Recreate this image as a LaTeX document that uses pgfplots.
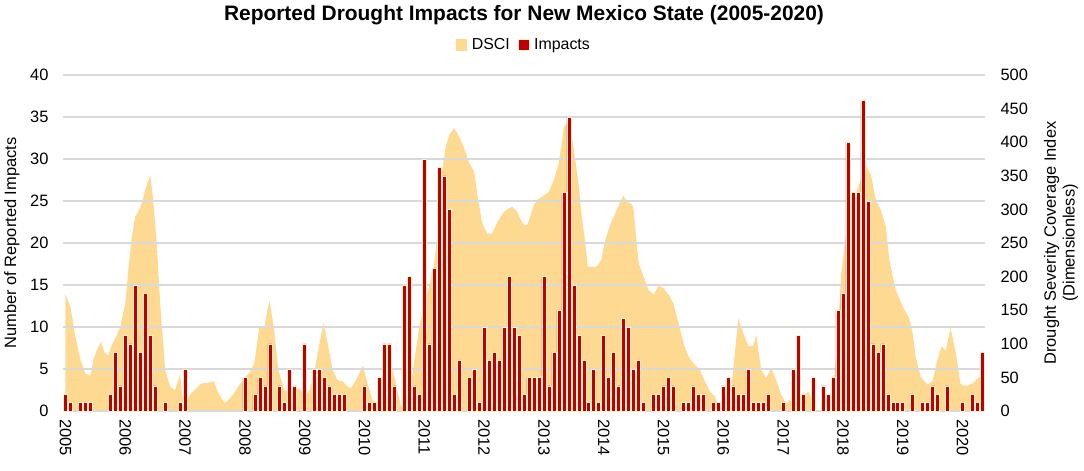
\documentclass[border=0pt]{standalone}
\usepackage{pgfplots}
\pgfplotsset{compat=1.18}
\usepackage{pgfplotstable}
\usepackage{fontspec}
\setmainfont{Liberation Sans}
\definecolor{dsci}{HTML}{FDD992}
\definecolor{imp}{HTML}{C00000}
\definecolor{gridc}{HTML}{D9D9D9}
\definecolor{barline}{HTML}{FFF3CF}

\pgfplotstableread{
m d
0 174
1 155
2 110
3 76
4 56
5 52
5.6 76
6.3 91
7.1 103
7.9 86
8.6 83
9.3 98
10.3 113
11 125
12 160
12.6 210
13.3 259
14 289
14.6 297
15.3 309
16 329
17 351
17.6 314
18.3 250
19 160
20 61
21 36
22 31
23 54
23.6 12
24.3 16
25.3 27
26.3 34
27.3 41
28.6 42
29.8 44
30.6 27
31.9 12
32.6 16
33.6 24
34.9 39
36 49
37 58
37.9 71
38.9 125
39.9 125
40.9 165
41.8 125
42.7 61
43.9 31
45 28
46 33
47 33
48 22
49 31
50 61
51 101
51.8 131
52.6 101
53.6 61
54.6 46
55.6 44
56.6 36
57.3 34
58.3 46
59.7 68
60.6 41
61.6 16
62.6 12
63.6 16
64.9 31
65.7 61
66.6 31
67.3 8
68.3 6
69 16
70 76
71 125
72 160
73 185
74 220
75 289
75.6 359
76.3 393
77 411
78 421
79 408
80 391
81 369
82 356
82.7 319
83.6 280
84.6 264
85.6 264
86.6 280
88 297
89.6 304
90.6 297
91.3 285
92 277
92.7 277
94 307
95 316
96 321
97 326
98 344
98.8 364
99.5 393
100 423
100.6 428
101.6 408
102.3 374
103 334
103.6 289
104.3 250
104.8 215
105.6 215
106.6 215
107.5 225
108.3 254
109.3 277
110.3 294
111.3 311
111.9 320
112.9 311
113.7 307
114 299
114.6 250
115 220
116 200
117 180
118 173
119 186
120 183
121 173
122 160
123 131
124 101
125 81
126 71
127.3 61
128.3 44
129.3 29
130.3 21
131.1 6
132.3 4
133.3 8
134.3 86
135 138
136 116
137 97
138 97
138.6 113
139.6 61
140.6 49
141.6 64
142.6 46
143.6 24
144.6 11
145.3 16
146.3 31
147.3 19
148.3 24
149.1 29
150 10
150.5 0
151.5 0
152 8
153 12
154 25
155 120
155.6 200
157 289
158.6 324
159.6 344
160.6 366
161.6 351
162.6 314
163.6 299
164.6 274
165.3 225
166.6 180
168 155
169.3 138
170 115
170.6 80
171.6 51
173 39
174 45
175 78
175.8 96
176.6 90
177.6 123
178.6 88
179.6 40
180.6 37
182 41
183 48
184 55
}\dscitable

\pgfplotstableread{
m v
0 2
1 1
3 1
4 1
5 1
9 2
10 7
11 3
12 9
13 8
14 15
15 7
16 14
17 9
18 3
20 1
23 1
24 5
36 4
38 2
39 4
40 3
41 8
43 3
44 1
45 5
46 3
48 8
50 5
51 5
52 4
53 3
54 2
55 2
56 2
60 3
61 1
62 1
63 4
64 8
65 8
66 3
68 15
69 16
70 3
71 2
72 30
73 8
74 17
75 29
76 28
77 24
78 2
79 6
81 4
82 5
83 1
84 10
85 6
86 7
87 6
88 10
89 16
90 10
91 9
92 2
93 4
94 4
95 4
96 16
97 3
98 7
99 12
100 26
101 35
102 15
103 9
104 6
105 1
106 5
107 1
108 9
109 4
110 7
111 3
112 11
113 10
114 5
115 6
116 1
118 2
119 2
120 3
121 4
122 3
124 1
125 1
126 3
127 2
128 2
130 1
131 1
132 3
133 4
134 3
135 2
136 2
137 5
138 1
139 1
140 1
141 2
144 1
146 5
147 9
148 2
150 4
152 3
153 2
154 4
155 12
156 14
157 32
158 26
159 26
160 37
161 25
162 8
163 7
164 8
165 2
166 1
167 1
168 1
170 2
172 1
173 1
174 3
175 2
177 3
180 1
182 2
183 1
184 7
}\imptable

\begin{document}
\begin{tikzpicture}
\useasboundingbox (-63bp,-60bp) rectangle (1021bp,411bp);
% DSCI axis (right)
\begin{axis}[
  at={(0,0)}, anchor=south west,
  scale only axis, width=922bp, height=336bp,
  xmin=-0.5, xmax=184.5, ymin=0, ymax=500,
  axis x line=none, axis y line*=right,
  axis line style={draw=none},
  ytick={0,50,...,500}, major tick length=0pt,
  /pgf/number format/assume math mode=true,
  yticklabel style={font=\fontsize{16.5}{18}\selectfont, anchor=west, xshift=12bp},
  ylabel={Drought Severity Coverage Index\\(Dimensionless)},
  ylabel style={font=\fontsize{16.5}{19}\selectfont, align=center,
    at={(axis description cs:1,0.5)}, anchor=center, yshift=-76bp},
]
\addplot[fill=dsci, draw=none] table[x=m, y=d] {\dscitable} \closedcycle;
\end{axis}
% Impacts axis (left)
\begin{axis}[
  at={(0,0)}, anchor=south west,
  scale only axis, width=922bp, height=336bp,
  xmin=-0.5, xmax=184.5, ymin=0, ymax=40,
  axis line style={draw=none},
  ytick={0,5,...,40}, ytick pos=left, xtick pos=bottom,
  major tick length=0pt,
  ymajorgrids, grid style={gridc, line width=1.2bp},
  /pgf/number format/assume math mode=true,
  yticklabel style={font=\fontsize{16.5}{18}\selectfont, xshift=-11bp},
  xtick={0,12,...,180},
  xticklabels={2005,2006,2007,2008,2009,2010,2011,2012,2013,2014,2015,2016,2017,2018,2019,2020},
  xticklabel style={font=\fontsize{16.5}{18}\selectfont, rotate=-90, anchor=west},
  xticklabel shift=5bp,
  ylabel={Number of Reported Impacts},
  ylabel style={font=\fontsize{16.5}{19}\selectfont,
    at={(axis description cs:0,0.5)}, anchor=center, yshift=51bp},
  title={Reported Drought Impacts for New Mexico State (2005-2020)},
  title style={font=\bfseries\fontsize{21}{23}\selectfont,
    at={(axis description cs:0.5,1)}, anchor=center, yshift=54bp},
  legend style={draw=none, fill=none, font=\fontsize{16}{18}\selectfont,
    at={(axis description cs:0.5,1)}, anchor=center, yshift=30bp,
    legend columns=2, /tikz/every even column/.append style={column sep=6bp}},
  legend image code/.code={\fill[#1] (0bp,-5.5bp) rectangle (11bp,5.5bp);},
]
\addlegendimage{fill=dsci, draw=none}
\addlegendentry{\,DSCI}
\addplot[ybar, bar width=4bp, fill=imp, draw=barline, line width=0.6bp] table[x=m, y=v] {\imptable};
\addlegendentry{\,Impacts}
\end{axis}
\end{tikzpicture}
\end{document}
